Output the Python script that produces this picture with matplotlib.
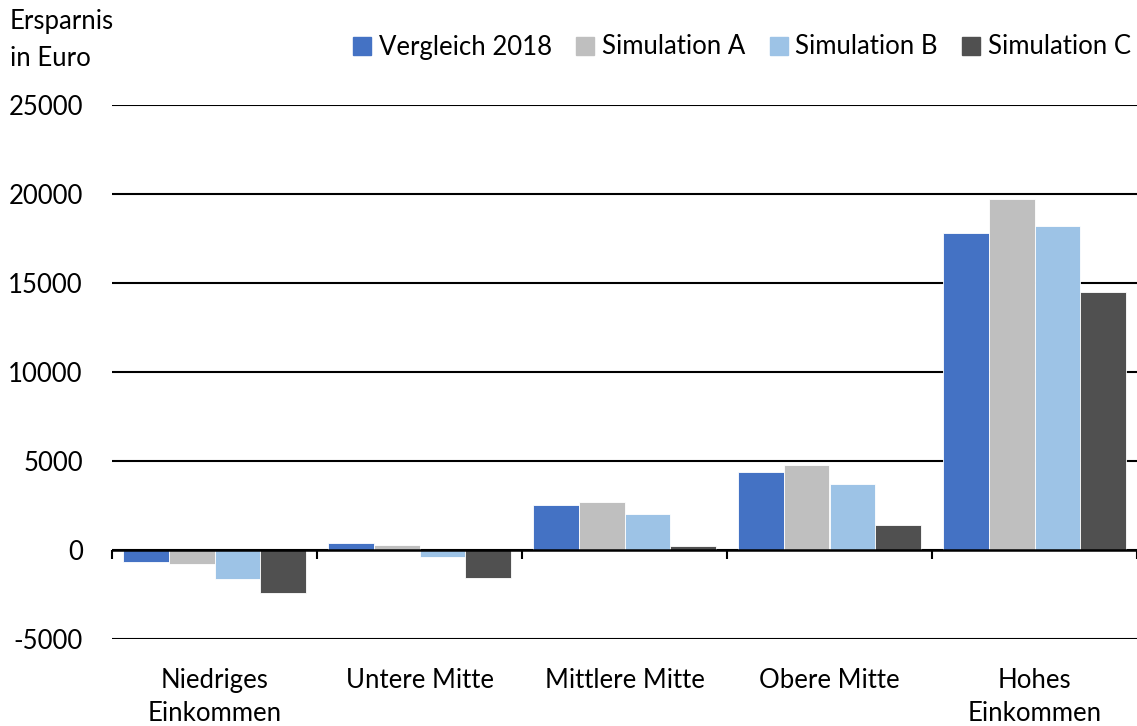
import numpy as np
import matplotlib
matplotlib.use("Agg")
import matplotlib.pyplot as plt
from matplotlib.lines import Line2D

plt.rcParams['font.family'] = ['Lato', 'DejaVu Sans']

# data
categories = ["Niedriges\nEinkommen", "Untere Mitte", "Mittlere Mitte",
              "Obere Mitte", "Hohes\nEinkommen"]
series_names = ["Vergleich 2018", "Simulation A", "Simulation B", "Simulation C"]
vergleich_2018 = [-650, 400, 2550, 4400, 17800]
simulation_a = [-800, 300, 2700, 4750, 19700]
simulation_b = [-1650, -400, 2000, 3700, 18200]
simulation_c = [-2400, -1600, 250, 1400, 14500]
y_ticks = [-5000, 0, 5000, 10000, 15000, 20000, 25000]

colors = ["#4472C4", "#BFBFBF", "#9DC3E6", "#505050"]
all_series = [vergleich_2018, simulation_a, simulation_b, simulation_c]

fs = 18.5

fig = plt.figure(figsize=(11.37, 7.26), dpi=100)
ax = fig.add_axes([112 / 1137, 1 - 639 / 726, 1025 / 1137, (639 - 105) / 726])

x = np.arange(len(categories))
bw = 0.222
for i, vals in enumerate(all_series):
    ax.bar(x + (i - 1.5) * bw, vals, width=bw, color=colors[i],
           edgecolor="white", linewidth=0.6, zorder=3)

ax.set_xlim(-0.5, len(categories) - 0.5)
ax.set_ylim(-5000, 25000)
ax.set_yticks(y_ticks)
ax.set_yticklabels([str(t) for t in y_ticks])
ax.yaxis.grid(True, color="black", linewidth=1.5, zorder=0)
ax.set_axisbelow(True)
for s in ax.spines.values():
    s.set_visible(False)
ax.tick_params(axis="y", length=0, pad=21, labelsize=fs)
ax.set_xticks(x)
ax.set_xticklabels(categories, linespacing=1.4)
ax.tick_params(axis="x", length=0, pad=21, labelsize=fs)

# zero axis with category separator ticks
ax.axhline(0, color="black", linewidth=1.8, zorder=4)
bounds = np.arange(len(categories) + 1) - 0.5
ax.vlines(bounds, -480, 0, color="black", linewidth=1.5, zorder=4, clip_on=False)

# axis title
fig.text(10 / 1137, 1 - 9 / 726, "Ersparnis\nin Euro", ha="left", va="top",
         fontsize=fs, linespacing=1.6)

handles = [Line2D([], [], marker="s", linestyle="none", markersize=12.5,
                  markerfacecolor=c, markeredgecolor=c) for c in colors]
fig.legend(handles, series_names, loc="center right", ncol=4, frameon=False,
           bbox_to_anchor=(1131 / 1137, 1 - 47 / 726), fontsize=fs,
           handletextpad=0.15, columnspacing=0.8, handlelength=1.0,
           borderaxespad=0, borderpad=0)

fig.savefig("out.png", dpi=100)
